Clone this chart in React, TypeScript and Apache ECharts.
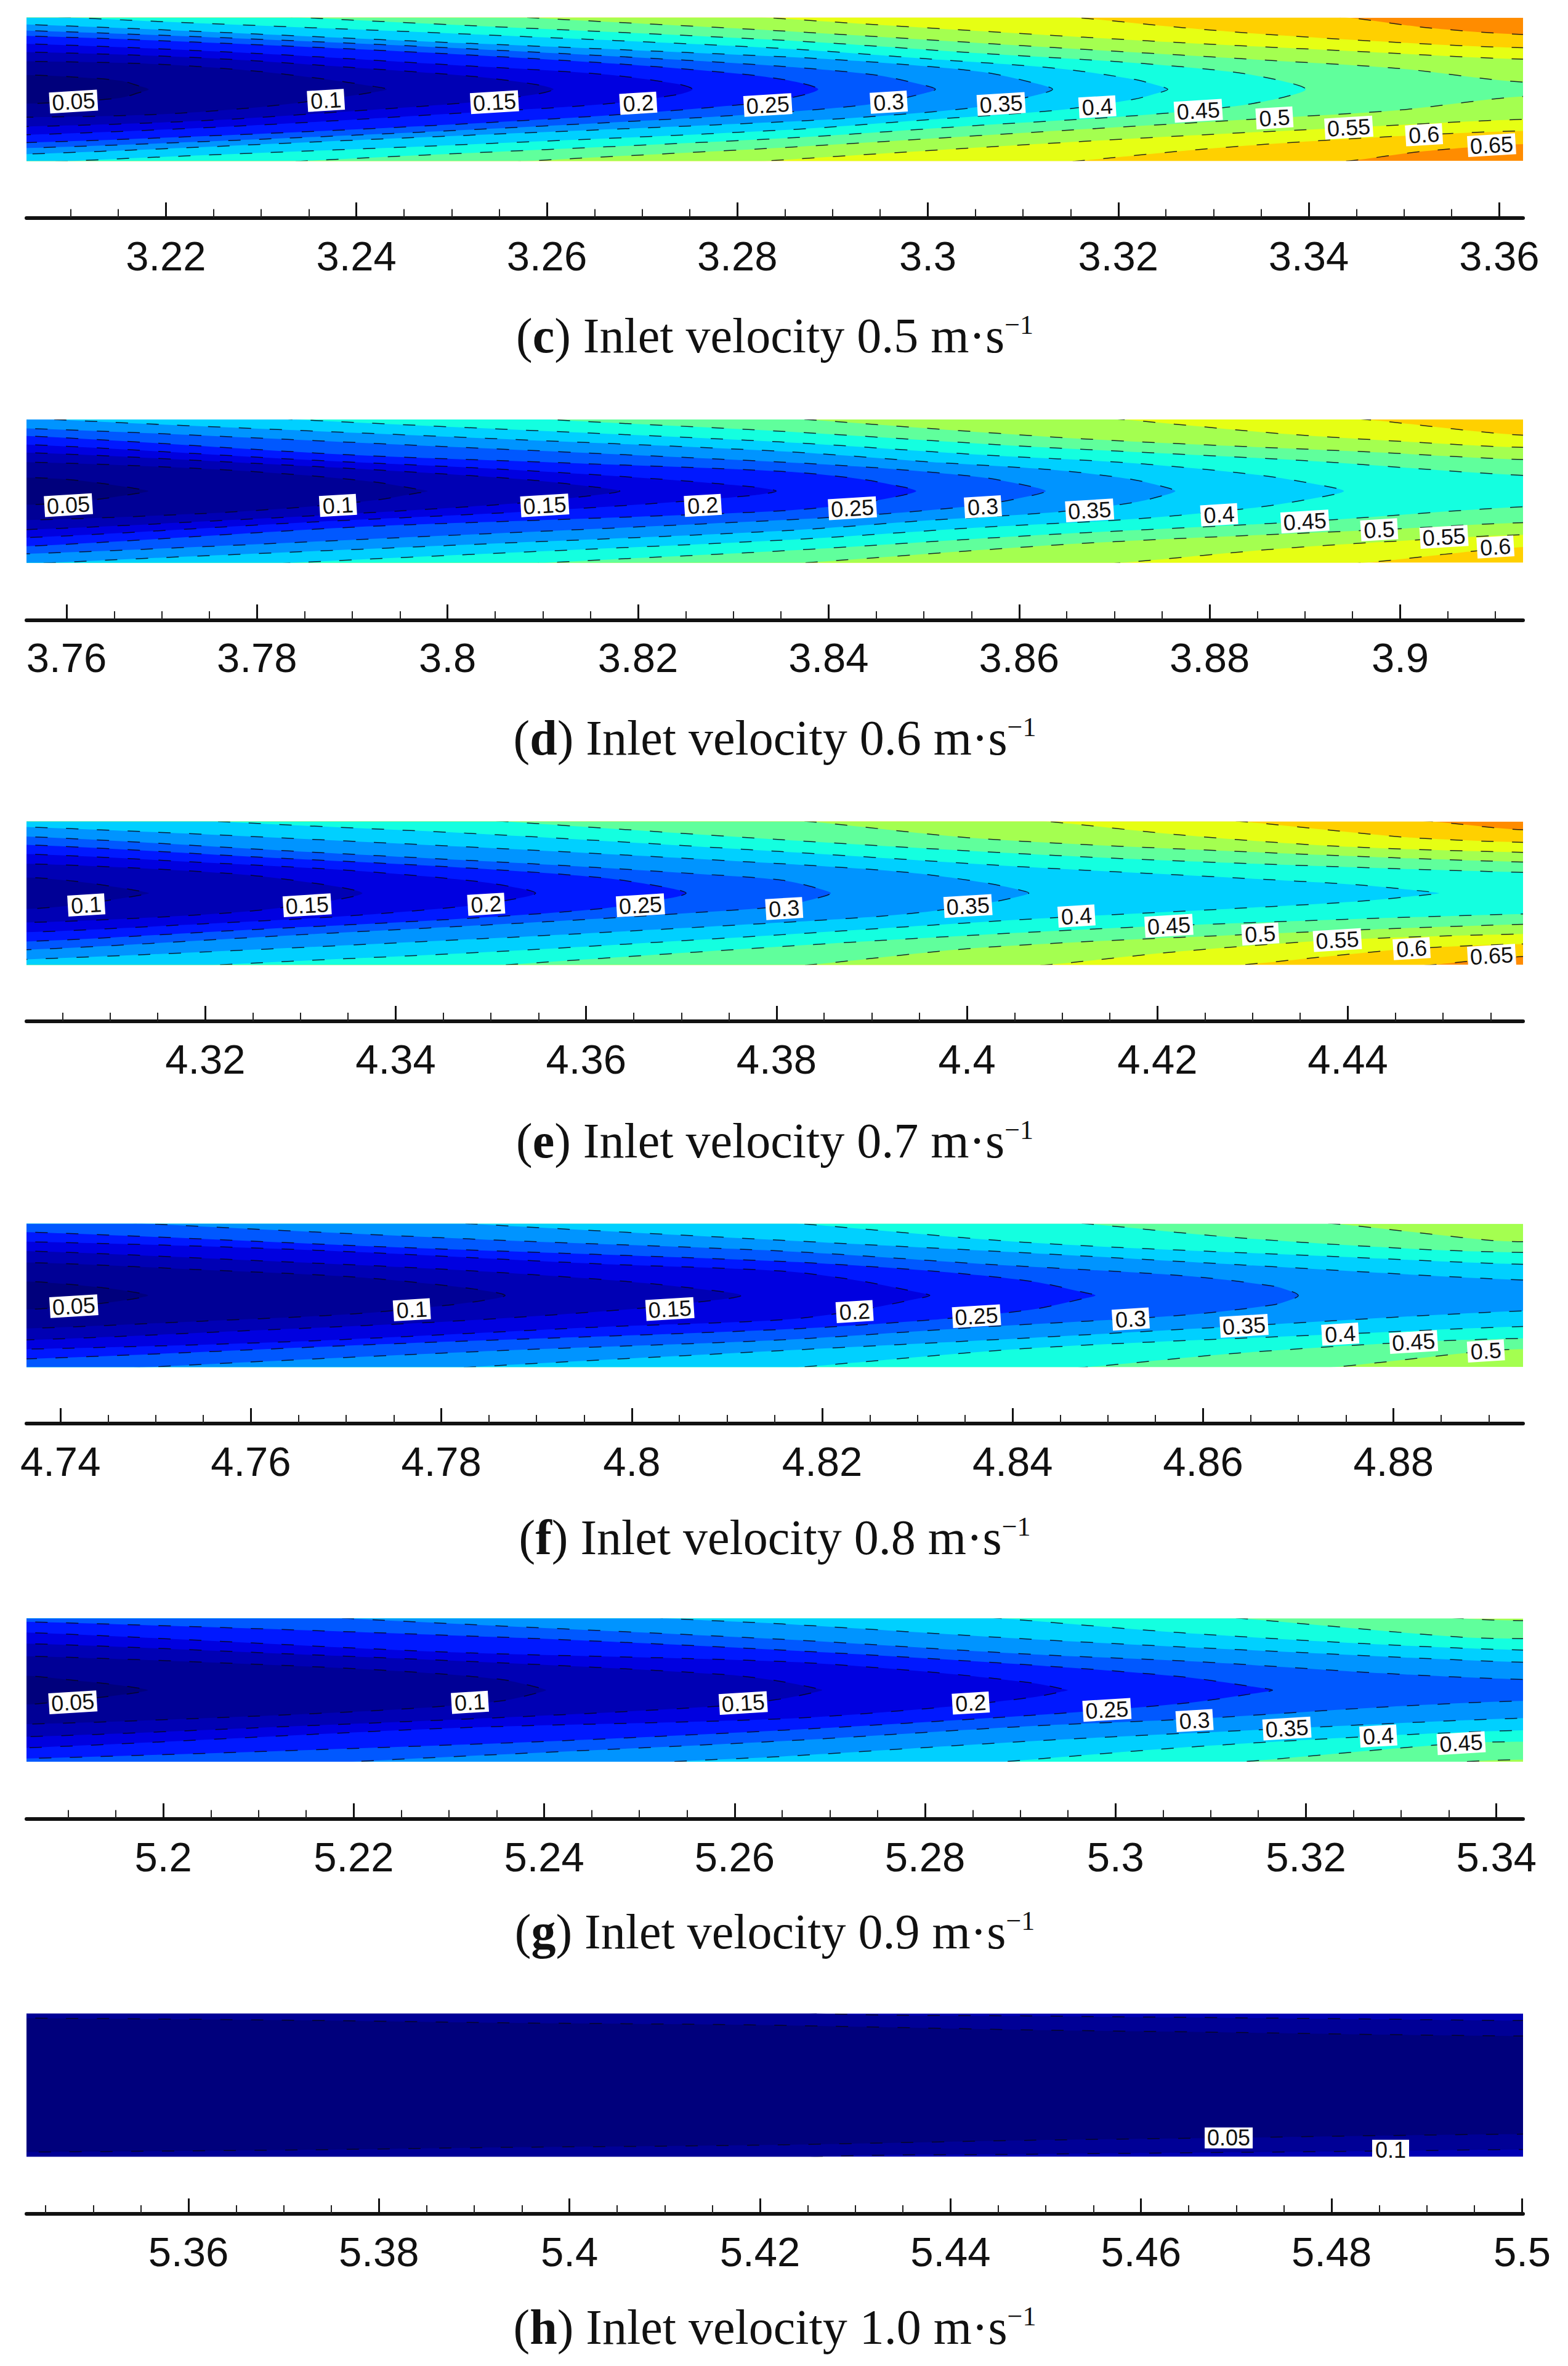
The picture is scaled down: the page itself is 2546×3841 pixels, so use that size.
import React, { useEffect, useRef } from "react";
import * as echarts from "echarts";

type Pt = number[];
const bandColors = ["#00007c", "#000096", "#0000b4", "#0000e0", "#0018ff", "#0058ff", "#0094ff", "#00d0ff", "#14ffe0", "#60ff9c", "#a4ff50", "#e6ff14", "#ffd000", "#ff8c00"];

const captionIds = ["c", "d", "e", "f", "g", "h"];
const captionSpeeds = ["0.5", "0.6", "0.7", "0.8", "0.9", "1.0"];

const ticksC = [3.22, 3.24, 3.26, 3.28, 3.3, 3.32, 3.34, 3.36];
const ticksD = [3.76, 3.78, 3.8, 3.82, 3.84, 3.86, 3.88, 3.9];
const ticksE = [4.32, 4.34, 4.36, 4.38, 4.4, 4.42, 4.44];
const ticksF = [4.74, 4.76, 4.78, 4.8, 4.82, 4.84, 4.86, 4.88];
const ticksG = [5.2, 5.22, 5.24, 5.26, 5.28, 5.3, 5.32, 5.34];
const ticksH = [5.36, 5.38, 5.4, 5.42, 5.44, 5.46, 5.48, 5.5];

const rangeC = [3.20536, 3.3625];
const rangeD = [3.7558, 3.9129];
const rangeE = [4.30122, 4.4584];
const rangeF = [4.73643, 4.8936];
const rangeG = [5.18563, 5.3428];
const rangeH = [5.343, 5.5001];

// Each contour: upper half, [axial position, distance from centreline / half height]
const levelsC = [0.05, 0.1, 0.15, 0.2, 0.25, 0.3, 0.35, 0.4, 0.45, 0.5, 0.55, 0.6, 0.65];
const curvesC: Pt[][] = [
  [[3.2054, 0.2], [3.2105, 0.17], [3.2152, 0.12], [3.2171, 0.05], [3.2182, 0]],
  [[3.2054, 0.39], [3.2184, 0.355], [3.2289, 0.26], [3.2368, 0.14], [3.2416, 0.045], [3.2432, 0]],
  [[3.2054, 0.52], [3.2237, 0.44], [3.2395, 0.305], [3.2526, 0.175], [3.2592, 0.06], [3.2607, 0]],
  [[3.2054, 0.635], [3.2289, 0.505], [3.25, 0.34], [3.2658, 0.21], [3.2737, 0.075], [3.2753, 0]],
  [[3.2054, 0.745], [3.24, 0.56], [3.2658, 0.37], [3.28, 0.22], [3.2847, 0.14], [3.2875, 0.06], [3.2885, 0]],
  [[3.2054, 0.82], [3.24, 0.64], [3.27, 0.44], [3.2847, 0.32], [3.2945, 0.2], [3.2995, 0.06], [3.3008, 0]],
  [[3.2054, 0.905], [3.245, 0.68], [3.2847, 0.455], [3.2953, 0.37], [3.3058, 0.24], [3.3111, 0.09], [3.3131, 0]],
  [[3.2105, 1], [3.25, 0.78], [3.2847, 0.57], [3.3005, 0.42], [3.3137, 0.29], [3.3216, 0.14], [3.3245, 0.04], [3.3252, 0]],
  [[3.2347, 1], [3.2847, 0.685], [3.3058, 0.5], [3.3216, 0.37], [3.3321, 0.24], [3.3374, 0.11], [3.3397, 0]],
  [[3.2584, 1], [3.2847, 0.815], [3.3111, 0.6], [3.3364, 0.4], [3.3495, 0.29], [3.3625, 0.1]],
  [[3.2832, 1], [3.3058, 0.81], [3.3268, 0.65], [3.3442, 0.535], [3.3625, 0.42]],
  [[3.3158, 1], [3.3268, 0.86], [3.3374, 0.75], [3.3521, 0.635], [3.3625, 0.58]],
  [[3.3442, 1], [3.3521, 0.865], [3.3625, 0.765]],
];
const labelsC: [string, number, number][] = [
  ["0.05", 3.2103, -0.171], ["0.1", 3.2368, -0.155], ["0.15", 3.2545, -0.18], ["0.2", 3.2696, -0.195], ["0.25", 3.2832, -0.22],
  ["0.3", 3.2959, -0.18], ["0.35", 3.3077, -0.205], ["0.4", 3.3178, -0.245], ["0.45", 3.3284, -0.3], ["0.5", 3.3364, -0.4],
  ["0.55", 3.3442, -0.535], ["0.6", 3.3521, -0.635], ["0.65", 3.3592, -0.78],
];

const levelsD = [0.05, 0.1, 0.15, 0.2, 0.25, 0.3, 0.35, 0.4, 0.45, 0.5, 0.55, 0.6];
const curvesD: Pt[][] = [
  [[3.7558, 0.19], [3.7599, 0.165], [3.7636, 0.11], [3.7673, 0.035], [3.7686, 0]],
  [[3.7558, 0.405], [3.7741, 0.315], [3.7846, 0.225], [3.7925, 0.125], [3.7967, 0.03], [3.7979, 0]],
  [[3.7558, 0.537], [3.7794, 0.39], [3.7952, 0.275], [3.8083, 0.16], [3.8162, 0.045], [3.8181, 0]],
  [[3.7558, 0.65], [3.7846, 0.44], [3.8057, 0.305], [3.8215, 0.175], [3.832, 0.06], [3.8345, 0]],
  [[3.7558, 0.77], [3.7899, 0.505], [3.811, 0.4], [3.8351, 0.275], [3.843, 0.175], [3.8477, 0.06], [3.8492, 0]],
  [[3.7558, 0.876], [3.8, 0.62], [3.8351, 0.405], [3.8456, 0.32], [3.8562, 0.19], [3.8614, 0.06], [3.8628, 0]],
  [[3.7588, 1], [3.8, 0.76], [3.8351, 0.555], [3.8509, 0.405], [3.8641, 0.29], [3.872, 0.16], [3.8756, 0.045], [3.8764, 0]],
  [[3.7841, 1], [3.8351, 0.685], [3.8562, 0.505], [3.872, 0.39], [3.8851, 0.225], [3.892, 0.075], [3.8941, 0]],
  [[3.8107, 1], [3.8351, 0.835], [3.8614, 0.62], [3.89, 0.425], [3.9129, 0.22]],
  [[3.8377, 1], [3.8667, 0.73], [3.8978, 0.54], [3.9129, 0.44]],
  [[3.8709, 1], [3.8877, 0.8], [3.9046, 0.66], [3.9129, 0.61]],
  [[3.8964, 1], [3.9129, 0.78]],
];
const labelsD: [string, number, number][] = [
  ["0.05", 3.7602, -0.196], ["0.1", 3.7885, -0.2], ["0.15", 3.8102, -0.2], ["0.2", 3.8268, -0.2], ["0.25", 3.8425, -0.24],
  ["0.3", 3.8562, -0.22], ["0.35", 3.8674, -0.27], ["0.4", 3.881, -0.33], ["0.45", 3.89, -0.425], ["0.5", 3.8978, -0.54],
  ["0.55", 3.9046, -0.64], ["0.6", 3.91, -0.78],
];

const levelsE = [0.1, 0.15, 0.2, 0.25, 0.3, 0.35, 0.4, 0.45, 0.5, 0.55, 0.6, 0.65];
const curvesE: Pt[][] = [
  [[4.3012, 0.22], [4.3064, 0.165], [4.3106, 0.085], [4.3135, 0.02], [4.3141, 0]],
  [[4.3012, 0.41], [4.3143, 0.34], [4.3248, 0.25], [4.3327, 0.115], [4.3359, 0.035], [4.3365, 0]],
  [[4.3012, 0.545], [4.3196, 0.43], [4.3354, 0.315], [4.3485, 0.165], [4.3537, 0.05], [4.3547, 0]],
  [[4.3012, 0.675], [4.3248, 0.51], [4.3459, 0.365], [4.3617, 0.215], [4.369, 0.065], [4.3705, 0]],
  [[4.3012, 0.79], [4.3301, 0.58], [4.3564, 0.395], [4.3722, 0.265], [4.3806, 0.18], [4.3848, 0.05], [4.3857, 0]],
  [[4.3012, 0.925], [4.35, 0.63], [4.3806, 0.41], [4.3911, 0.32], [4.3964, 0.25], [4.4025, 0.13], [4.4058, 0.035], [4.4065, 0]],
  [[4.3217, 1], [4.35, 0.82], [4.3806, 0.58], [4.4069, 0.36], [4.428, 0.215], [4.4411, 0.115], [4.4485, 0.02], [4.4496, 0]],
  [[4.3517, 1], [4.3806, 0.745], [4.4016, 0.58], [4.4212, 0.455], [4.4584, 0.29]],
  [[4.3835, 1], [4.4016, 0.76], [4.4308, 0.57], [4.4584, 0.435]],
  [[4.4085, 1], [4.4227, 0.81], [4.4389, 0.655], [4.4584, 0.57]],
  [[4.429, 1], [4.4385, 0.875], [4.4467, 0.775], [4.4584, 0.71]],
  [[4.449, 1], [4.4584, 0.885]],
];
const labelsE: [string, number, number][] = [
  ["0.1", 4.3075, -0.165], ["0.15", 4.3307, -0.17], ["0.2", 4.3495, -0.155], ["0.25", 4.3657, -0.17], ["0.3", 4.3808, -0.215],
  ["0.35", 4.4001, -0.18], ["0.4", 4.4115, -0.32], ["0.45", 4.4212, -0.455], ["0.5", 4.4308, -0.57], ["0.55", 4.4389, -0.655],
  ["0.6", 4.4467, -0.775], ["0.65", 4.4551, -0.875],
];

const levelsF = [0.05, 0.1, 0.15, 0.2, 0.25, 0.3, 0.35, 0.4, 0.45, 0.5];
const curvesF: Pt[][] = [
  [[4.7365, 0.195], [4.7405, 0.16], [4.7453, 0.095], [4.7484, 0.03], [4.7492, 0]],
  [[4.7365, 0.46], [4.7547, 0.36], [4.7705, 0.26], [4.7811, 0.13], [4.7858, 0.04], [4.7867, 0]],
  [[4.7365, 0.62], [4.76, 0.49], [4.7811, 0.36], [4.7995, 0.195], [4.81, 0.045], [4.8115, 0]],
  [[4.7365, 0.75], [4.7653, 0.64], [4.7968, 0.44], [4.8158, 0.34], [4.8237, 0.21], [4.83, 0.045], [4.8313, 0]],
  [[4.7365, 0.885], [4.7758, 0.67], [4.8158, 0.475], [4.8316, 0.34], [4.8421, 0.195], [4.8474, 0.045], [4.8487, 0]],
  [[4.7495, 1], [4.7863, 0.77], [4.8158, 0.62], [4.8368, 0.44], [4.8579, 0.275], [4.8674, 0.13], [4.8696, 0.04], [4.87, 0]],
  [[4.7832, 1], [4.8158, 0.77], [4.8421, 0.59], [4.8643, 0.425], [4.8936, 0.215]],
  [[4.8179, 1], [4.8421, 0.735], [4.8744, 0.54], [4.8936, 0.435]],
  [[4.8479, 1], [4.8632, 0.81], [4.8821, 0.65], [4.8936, 0.6]],
  [[4.8739, 1], [4.8897, 0.775], [4.8936, 0.75]],
];
const labelsF: [string, number, number][] = [
  ["0.05", 4.7414, -0.15], ["0.1", 4.7769, -0.2], ["0.15", 4.804, -0.19], ["0.2", 4.8234, -0.225], ["0.25", 4.8362, -0.29],
  ["0.3", 4.8524, -0.33], ["0.35", 4.8643, -0.425], ["0.4", 4.8744, -0.54], ["0.45", 4.8821, -0.65], ["0.5", 4.8897, -0.775],
];

const levelsG = [0.05, 0.1, 0.15, 0.2, 0.25, 0.3, 0.35, 0.4, 0.45, 0.5];
const curvesG: Pt[][] = [
  [[5.1856, 0.2], [5.1897, 0.15], [5.1944, 0.085], [5.1976, 0.025], [5.1984, 0]],
  [[5.1856, 0.475], [5.2092, 0.365], [5.2249, 0.265], [5.2355, 0.15], [5.2394, 0.035], [5.2402, 0]],
  [[5.1856, 0.65], [5.2144, 0.5], [5.2407, 0.35], [5.2592, 0.215], [5.265, 0.12], [5.2682, 0.035], [5.2692, 0]],
  [[5.1856, 0.805], [5.2302, 0.53], [5.265, 0.4], [5.2808, 0.25], [5.2913, 0.1], [5.2942, 0.025], [5.295, 0]],
  [[5.1856, 0.955], [5.2355, 0.74], [5.265, 0.56], [5.2913, 0.35], [5.3071, 0.185], [5.3151, 0.035], [5.3165, 0]],
  [[5.2197, 1], [5.265, 0.71], [5.2913, 0.5], [5.3083, 0.4], [5.3282, 0.235], [5.3428, 0.15]],
  [[5.2534, 1], [5.265, 0.925], [5.2913, 0.71], [5.318, 0.535], [5.3428, 0.39]],
  [[5.2882, 1], [5.3071, 0.8], [5.3276, 0.64], [5.3428, 0.56]],
  [[5.3134, 1], [5.3363, 0.74], [5.3428, 0.72]],
  [[5.3366, 1], [5.3428, 0.97]],
];
const labelsG: [string, number, number][] = [
  ["0.05", 5.1905, -0.17], ["0.1", 5.2322, -0.17], ["0.15", 5.2609, -0.18], ["0.2", 5.2848, -0.18], ["0.25", 5.2991, -0.275],
  ["0.3", 5.3083, -0.425], ["0.35", 5.318, -0.535], ["0.4", 5.3276, -0.64], ["0.45", 5.3363, -0.74],
];

const levelsH = [0.05, 0.1];
const curvesH: Pt[][] = [
  [[5.343, 0.935], [5.3718, 0.905], [5.3929, 0.87], [5.4192, 0.84], [5.4485, 0.77], [5.4696, 0.735], [5.4855, 0.705], [5.5001, 0.685]],
  [[5.4274, 0.995], [5.4485, 0.965], [5.4696, 0.94], [5.4855, 0.92], [5.5001, 0.9]],
];
const labelsH: [string, number, number][] = [["0.05", 5.4692, -0.737], ["0.1", 5.4862, -0.91]];

// Layout, in page pixels
const plotLeft = 43;
const plotRight = 2473;
const plotTops = [28.7, 681, 1333.7, 1986.8, 2627.6, 3268.7];
const plotHeight = 232.5;
const axisLines = [353.6, 1006.3, 1658, 2311, 2952.5, 3594];
const captionMids = [545, 1198, 1852, 2496, 3136, 3778];
const labelTilt = [3.5, 3.5, 3.5, 3.5, 3.5, 0];

const panels = [
  { ticks: ticksC, range: rangeC, levels: levelsC, curves: curvesC, labels: labelsC },
  { ticks: ticksD, range: rangeD, levels: levelsD, curves: curvesD, labels: labelsD },
  { ticks: ticksE, range: rangeE, levels: levelsE, curves: curvesE, labels: labelsE },
  { ticks: ticksF, range: rangeF, levels: levelsF, curves: curvesF, labels: labelsF },
  { ticks: ticksG, range: rangeG, levels: levelsG, curves: curvesG, labels: labelsG },
  { ticks: ticksH, range: rangeH, levels: levelsH, curves: curvesH, labels: labelsH },
];

const minorTicks = (range: number[]) => {
  const out: number[] = [];
  for (let k = Math.ceil(range[0] / 0.005); k * 0.005 <= range[1]; k++) {
    if (k % 4 !== 0) out.push(Number((k * 0.005).toFixed(3)));
  }
  return out;
};

const bandOf = (level: number) => Math.round(level / 0.05) - 1;

// Full contour outline: wall/edge entry, then on past the panel so the clip trims it
const outline = (curve: Pt[], range: number[]) => {
  const ext = 0.012;
  const first = curve[0];
  const last = curve[curve.length - 1];
  const upper: Pt[] = [];
  const lower: Pt[] = [];
  if (first[1] >= 0.99) {
    upper.push([range[0] - ext, 1.5], [first[0] - 0.012, 1.12]);
  } else {
    upper.push([range[0] - ext, first[1]]);
  }
  upper.push(...curve);
  if (last[1] !== 0) upper.push([range[1] + ext, last[1]]);
  for (let i = upper.length - 1; i >= 0; i--) {
    if (upper[i][1] !== 0) lower.push([upper[i][0], -upper[i][1]]);
  }
  return upper.concat(lower);
};

export default function App() {
  const ref = useRef<HTMLDivElement>(null);
  useEffect(() => {
    document.body.style.margin = "0";
    const chart = echarts.init(ref.current!, undefined, { renderer: "svg", width: 2546, height: 3841 });
    const grid: any[] = [];
    const xAxis: any[] = [];
    const yAxis: any[] = [];
    const series: any[] = [];
    const graphic: any[] = [];

    panels.forEach((p, i) => {
      const bottomPx = plotTops[i] + plotHeight;
      grid.push({ left: plotLeft, width: plotRight - plotLeft, top: plotTops[i], height: plotHeight, show: false });
      yAxis.push({ gridIndex: i, type: "value", min: -1, max: 1, show: false });
      const base = { gridIndex: i, type: "value", min: p.range[0], max: p.range[1], position: "bottom", offset: axisLines[i] - bottomPx, splitLine: { show: false } };
      xAxis.push({
        ...base,
        axisLine: { show: true, onZero: false, lineStyle: { color: "#111", width: 6 } },
        axisTick: { show: true, inside: true, length: 25, lineStyle: { color: "#111", width: 3 }, customValues: p.ticks },
        axisLabel: { show: true, customValues: p.ticks, margin: 28, fontSize: 67, fontFamily: "Liberation Sans", color: "#111", formatter: (v: number) => String(v), hideOverlap: false },
      });
      xAxis.push({
        ...base,
        axisLine: { show: false, onZero: false },
        axisTick: { show: true, inside: true, length: 14, lineStyle: { color: "#222", width: 2 }, customValues: minorTicks(p.range) },
        axisLabel: { show: false },
      });
      const axisRefs = { xAxisIndex: i * 2, yAxisIndex: i };
      const order = p.levels.map((_, k) => k).reverse();
      const topBand = bandColors[bandOf(p.levels[p.levels.length - 1]) + 1];

      series.push({
        ...axisRefs,
        type: "custom",
        coordinateSystem: "cartesian2d",
        clip: true,
        silent: true,
        data: [[p.range[0], -1], ...order.map((k) => [p.curves[k][0][0], p.curves[k][0][1]])],
        renderItem: (params: any, api: any) => {
          if (params.dataIndex === 0) {
            const a = api.coord([p.range[0], 1]);
            const b = api.coord([p.range[1], -1]);
            return { type: "rect", shape: { x: a[0], y: a[1], width: b[0] - a[0], height: b[1] - a[1] }, style: { fill: topBand } };
          }
          const k = order[params.dataIndex - 1];
          const pts = outline(p.curves[k], p.range).map((q) => api.coord(q));
          return { type: "polygon", shape: { points: pts, smooth: 0.3 }, style: { fill: bandColors[bandOf(p.levels[k])], stroke: null } };
        },
      });
      series.push({
        ...axisRefs,
        type: "custom",
        coordinateSystem: "cartesian2d",
        clip: true,
        silent: true,
        z: 3,
        data: order.map((k) => [p.curves[k][0][0], p.curves[k][0][1]]),
        renderItem: (params: any, api: any) => {
          const k = order[params.dataIndex];
          const pts = outline(p.curves[k], p.range).map((q) => api.coord(q));
          return {
            type: "polyline",
            shape: { points: pts, smooth: 0.3 },
            style: { fill: null, stroke: "#07071a", lineWidth: 1.5, lineDash: [20, 30], opacity: 0.85 },
          };
        },
      });
      series.push({
        ...axisRefs,
        type: "custom",
        coordinateSystem: "cartesian2d",
        clip: false,
        silent: true,
        z: 5,
        data: p.labels.map((l) => [l[1], l[2]]),
        renderItem: (params: any, api: any) => {
          const l = p.labels[params.dataIndex];
          const c = api.coord([api.value(0), api.value(1)]);
          const w = l[0].length === 4 ? 78 : 60;
          return {
            type: "group",
            x: c[0],
            y: c[1],
            rotation: (labelTilt[i] * Math.PI) / 180,
            children: [
              { type: "rect", shape: { x: -w / 2, y: -17, width: w, height: 34 }, style: { fill: "#fff" } },
              { type: "text", style: { text: l[0], x: 0, y: 0, align: "center", verticalAlign: "middle", fontSize: 36, fontFamily: "Liberation Sans", fill: "#111" } },
            ],
          };
        },
      });
      const font = { fontFamily: "Liberation Serif", fontSize: 80, fill: "#111" };
      graphic.push({
        type: "text",
        x: 1258,
        y: captionMids[i],
        style: {
          text: `{p|(}{b|${captionIds[i]}}{p|) Inlet velocity ${captionSpeeds[i]} m·s}{s|−1}`,
          align: "center",
          verticalAlign: "middle",
          rich: {
            p: { ...font },
            b: { ...font, fontWeight: "bold" },
            s: { ...font, fontSize: 44, verticalAlign: "top" },
          },
        },
      });
    });

    chart.setOption({ animation: false, backgroundColor: "#fff", grid, xAxis, yAxis, series, graphic });
    return () => chart.dispose();
  }, []);
  return <div ref={ref} style={{ width: 2546, height: 3841 }} />;
}
